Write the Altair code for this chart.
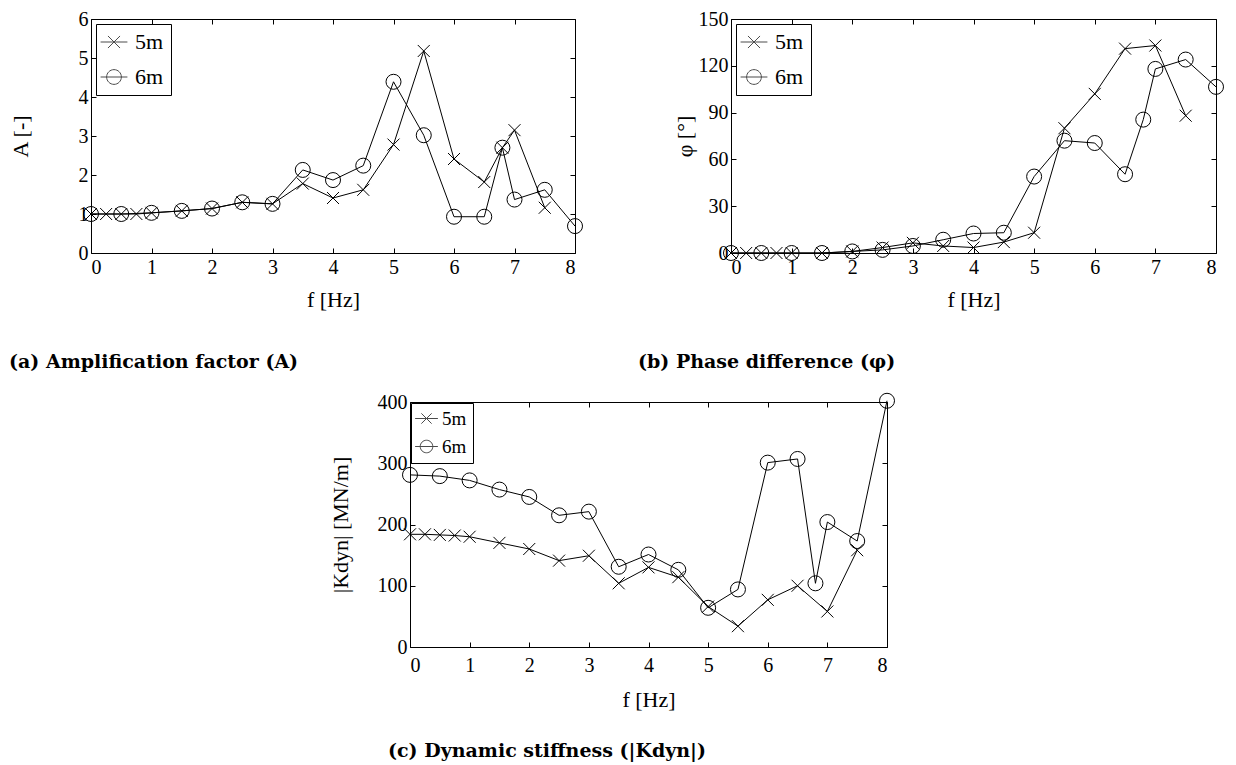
import altair as alt
import pandas as pd

# ---------------- data ----------------
series_names = ["5m", "6m"]

# frequencies
f_5m_a = [0, 0.25, 0.5, 0.75, 1, 1.5, 2, 2.5, 3, 3.5, 4, 4.5, 5, 5.5, 6, 6.5, 6.8, 7, 7.5]
f_5m_bc = [0, 0.25, 0.5, 0.75, 1, 1.5, 2, 2.5, 3, 3.5, 4, 4.5, 5, 5.5, 6, 6.5, 7, 7.5]
f_6m = [0, 0.5, 1, 1.5, 2, 2.5, 3, 3.5, 4, 4.5, 5, 5.5, 6, 6.5, 6.8, 7, 7.5, 8]

# (a) amplification factor A [-]
A_5m = [1.0, 1.0, 1.0, 1.0, 1.03, 1.08, 1.14, 1.3, 1.26, 1.78, 1.41, 1.62, 2.78, 5.18, 2.41, 1.82, 2.7, 3.15, 1.16]
A_6m = [1.0, 1.0, 1.03, 1.08, 1.14, 1.3, 1.26, 2.13, 1.87, 2.24, 4.39, 3.02, 0.93, 0.93, 2.7, 1.37, 1.62, 0.69]

# (b) phase difference phi [deg]
phi_5m = [0, 0, 0, 0, 0, 0, 1, 3.5, 6.5, 4.5, 3.5, 7, 13, 80, 102, 131, 133, 88]
phi_6m = [0, 0, 0, 0, 1, 2, 4.5, 8.5, 12.5, 13, 49, 72, 70.5, 50.5, 85.5, 118, 124, 106.5]

# (c) dynamic stiffness |K_dyn| [MN/m]
K_5m = [184, 184, 183, 182, 180, 170, 160, 141, 149, 104, 130, 114, 66, 34, 77, 100, 58, 158]
K_6m = [281, 279, 272, 257, 245, 215, 221, 131, 151, 126, 64, 94, 301, 307, 104, 204, 173, 402]

x_ticks = [0, 1, 2, 3, 4, 5, 6, 7, 8]
y_ticks_a = [0, 1, 2, 3, 4, 5, 6]
y_ticks_b = [0, 30, 60, 90, 120, 150]
y_ticks_c = [0, 100, 200, 300, 400]


def make_df(f5, v5, f6, v6):
    return pd.DataFrame({
        "f": list(f5) + list(f6),
        "v": list(v5) + list(v6),
        "s": [series_names[0]] * len(f5) + [series_names[1]] * len(f6),
    })


FONT = "Liberation Serif"
CAP_FONT = "DejaVu Serif"
X_PATH = "M-1,-1L1,1M1,-1L-1,1"
LEG_X = "M-2,0H2M-0.9,-0.9L0.9,0.9M0.9,-0.9L-0.9,0.9"
LEG_O = "M-2,0H2M-1.1,0A1.1,1.1 0 1,0 1.1,0A1.1,1.1 0 1,0 -1.1,0"

LBL = dict(labelFont=FONT, labelFontSize=20, labelColor="black",
           titleFont=FONT, titleFontSize=22, titleFontWeight="normal",
           titleColor="black", tickColor="black", tickWidth=1)


def panel(df, ydom, yticks, ytitle, caption, w, h, ytitle_pad, cap_dx, cap_off,
          x_lpad, x_tpad, leg_font, leg_sym, leg_row, leg_pad, leg_offset, leg_loff):
    xs = alt.Scale(domain=[0, 8], nice=False, zero=False)
    ys = alt.Scale(domain=ydom, nice=False, zero=False)
    base = alt.Chart(df)
    line = base.mark_line(color="black", strokeWidth=1).encode(
        x=alt.X("f:Q", scale=xs, axis=alt.Axis(
            values=x_ticks, title="f [Hz]", orient="bottom", offset=-5,
            tickSize=5, domain=False, grid=False, labelPadding=x_lpad,
            titlePadding=x_tpad, format="d", **LBL)),
        y=alt.Y("v:Q", scale=ys, axis=alt.Axis(
            values=yticks, title=ytitle, orient="left", offset=-5,
            tickSize=5, domain=False, grid=False, labelPadding=3,
            titlePadding=ytitle_pad, format="d", **LBL)),
        detail="s:N",
    )
    pts = base.mark_point(color="black", filled=False, strokeWidth=1, opacity=1).encode(
        x=alt.X("f:Q", scale=xs, axis=None),
        y=alt.Y("v:Q", scale=ys, axis=None),
        shape=alt.Shape("s:N", scale=alt.Scale(domain=series_names, range=[X_PATH, "circle"]), legend=None),
        size=alt.Size("s:N", scale=alt.Scale(domain=series_names, range=[144, 225]), legend=None),
    )
    leg = base.transform_filter("datum.f < -100").mark_point(
        color="black", filled=False, strokeWidth=1).encode(
        x=alt.X("f:Q", scale=xs, axis=alt.Axis(
            values=x_ticks, orient="top", offset=-5, tickSize=5, domain=False,
            grid=False, labels=False, title=None, tickColor="black")),
        y=alt.Y("v:Q", scale=ys, axis=alt.Axis(
            values=yticks, orient="right", offset=-5, tickSize=5, domain=False,
            grid=False, labels=False, title=None, tickColor="black")),
        shape=alt.Shape("s:N", scale=alt.Scale(domain=series_names, range=[LEG_X, LEG_O]),
                        legend=alt.Legend(
                            orient="top-left", title=None, strokeColor="black",
                            fillColor="white", padding=leg_pad, offset=leg_offset,
                            labelFont=FONT, labelFontSize=leg_font, labelColor="black",
                            symbolSize=leg_sym, symbolStrokeWidth=1,
                            symbolStrokeColor="black", symbolFillColor="transparent",
                            symbolOffset=0, labelOffset=leg_loff,
                            rowPadding=leg_row, cornerRadius=0)),
    )
    return alt.layer(line, pts, leg).resolve_scale(
        shape="independent", size="independent"
    ).resolve_axis(x="independent", y="independent").properties(
        width=w, height=h,
        title=alt.TitleParams(caption, orient="bottom", anchor="start", frame="group",
                              dx=cap_dx, offset=cap_off, font=CAP_FONT, fontSize=19,
                              fontWeight="bold", color="black"),
    )


pa = panel(make_df(f_5m_a, A_5m, f_6m, A_6m), [0, 6], y_ticks_a, "A [-]",
           "(a) Amplification factor (A)", 484, 234, 46, -82, 43, 4, 12,
           22, 180, 13, 7, 5, 10)
pb = panel(make_df(f_5m_bc, phi_5m, f_6m, phi_6m), [0, 150], y_ticks_b, "φ [°]",
           "(b) Phase difference (φ)", 485, 234, 2, -93, 43, 4, 12,
           22, 180, 13, 7, 5, 10)
pc = panel(make_df(f_5m_bc, K_5m, f_6m, K_6m), [0, 400], y_ticks_c, "|Kdyn| [MN/m]",
           "(c) Dynamic stiffness (|Kdyn|)", 477, 245, 25, -22, 32, 8, 14,
           19, 130, 8, 6, 1, 6)

spacer = alt.Chart(pd.DataFrame({"z": [0]})).mark_point(opacity=0).encode(
    x=alt.value(0), y=alt.value(0)
).properties(width=237, height=10, view=alt.ViewBackground(stroke=None))

row1 = alt.hconcat(pa, pb, spacing=52)
row2 = alt.hconcat(spacer, pc, spacing=0)

chart = alt.vconcat(row1, row2, spacing=17).properties(
    padding=0, background="white"
).configure_view(stroke="black", strokeWidth=1)

chart.save("out.html", embed_options={"renderer": "svg", "actions": False})
